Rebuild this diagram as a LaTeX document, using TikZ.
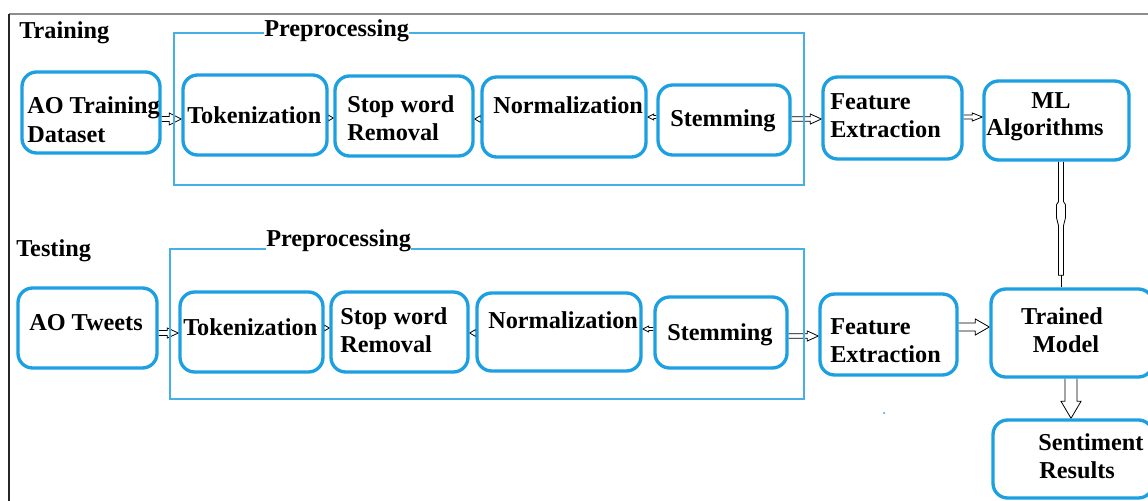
\documentclass[tikz,border=0pt]{standalone}
\usepackage{fontspec}
\setmainfont{Liberation Serif}
\usetikzlibrary{fit,calc,backgrounds}
\definecolor{boxblue}{RGB}{28,160,226}
\definecolor{preblue}{RGB}{70,175,230}
\newcommand\arrR[6]{%
  \coordinate (s) at (#1 |- #3); \coordinate (t) at (#2 |- #3);
  \draw[arr] ($(s)+(0,-#4)$) -- ($(t)+(-#6,-#4)$) -- ($(t)+(-#6,-#5)$) -- (t) -- ($(t)+(-#6,#5)$) -- ($(t)+(-#6,#4)$) -- ($(s)+(0,#4)$);}
\newcommand\arrL[6]{%
  \coordinate (s) at (#1 |- #3); \coordinate (t) at (#2 |- #3);
  \draw[arr] ($(s)+(0,-#4)$) -- ($(t)+(#6,-#4)$) -- ($(t)+(#6,-#5)$) -- (t) -- ($(t)+(#6,#5)$) -- ($(t)+(#6,#4)$) -- ($(s)+(0,#4)$);}
\newcommand\arrD[6]{%
  \coordinate (s) at (#1 -| #3); \coordinate (t) at (#2 -| #3);
  \draw[arr] ($(s)+(-#4,0)$) -- ($(t)+(-#4,-#6)$) -- ($(t)+(-#5,-#6)$) -- (t) -- ($(t)+(#5,-#6)$) -- ($(t)+(#4,-#6)$) -- ($(s)+(#4,0)$);}
\begin{document}
\begin{tikzpicture}[x=0.75pt,y=-0.75pt,
  box/.style={draw=boxblue, line width=2.5pt, rounded corners=11pt, inner sep=0pt},
  prebox/.style={draw=preblue, line width=0.8pt, inner sep=0pt},
  lbl/.style={anchor=base west, font=\fontsize{18.2}{22}\selectfont\bfseries, inner sep=0pt},
  clbl/.style={lbl, anchor=base},
  arr/.style={draw=black, line width=0.6pt, fill=white, line join=miter}]
\useasboundingbox (0,0) rectangle (1148,500);
% outer frame
\draw[line width=1.5pt, black!45] (9,14) -- (1150,14);
\draw[line width=1.5pt, black!85] (9,14) -- (9,502);
% preprocessing frames
\node[prebox, fit={(174,33) (804,185)}] (pp1) {};
\node[prebox, fit={(170,249) (804,399)}] (pp2) {};
% row 1 boxes
\node[box, fit={(22,72) (160,153)}] (trd) {};
\node[box, fit={(183,75) (327,155)}] (tok1) {};
\node[box, fit={(335,76) (473,156)}] (stop1) {};
\node[box, fit={(482,77) (646,157)}] (norm1) {};
\node[box, fit={(658,85) (790,155)}] (stem1) {};
\node[box, fit={(823,77) (962,159)}] (feat1) {};
\node[box, fit={(984,81) (1129,160)}] (ml) {};
% row 2 boxes
\node[box, fit={(18,288) (157,368)}] (tw) {};
\node[box, fit={(180,292) (323,372)}] (tok2) {};
\node[box, fit={(331,292) (468,372)}] (stop2) {};
\node[box, fit={(477,293) (641,371)}] (norm2) {};
\node[box, fit={(655,297) (787,368)}] (stem2) {};
\node[box, fit={(820,294) (957,375)}] (feat2) {};
\node[box, fit={(991,289) (1153,377)}] (tm) {};
\node[box, fit={(993,420) (1153,498)}] (sent) {};
% labels
\node[lbl] (t1) at (19,38) {Training};
\node[lbl, fill=white] (p1) at (264,36) {Preprocessing};
\node[lbl] (t2) at (16,256) {Testing};
\node[lbl, fill=white] (p2) at (266,246) {Preprocessing};
\node[lbl] at (27,113) {AO Training};
\node[lbl] at (27,142) {Dataset};
\node[lbl] at (187,123) {Tokenization};
\node[lbl] at (347,112) {Stop word};
\node[lbl] at (347,140) {Removal};
\node[lbl] at (493,113) {Normalization};
\node[lbl] at (670,126) {Stemming};
\node[lbl] at (830,109) {Feature};
\node[lbl] at (830,137) {Extraction};
\node[clbl] at (1051,108) {ML};
\node[clbl] at (1045,135) {Algorithms};
\node[lbl] at (29,330) {AO Tweets};
\node[lbl] at (183,335) {Tokenization};
\node[lbl] at (340,324) {Stop word};
\node[lbl] at (340,352) {Removal};
\node[lbl] at (488,328) {Normalization};
\node[lbl] at (667,340) {Stemming};
\node[lbl] at (830,334) {Feature};
\node[lbl] at (830,362) {Extraction};
\node[clbl] at (1062,324) {Trained};
\node[clbl] at (1066,352) {Model};
\node[lbl] at (1038,450) {Sentiment};
\node[lbl] at (1039,478) {Results};
\fill[boxblue] (884,413) circle (1);
% connectors
\begin{scope}[on background layer]
\coordinate (y1) at (0,119); \coordinate (y2) at (0,118); \coordinate (y3) at (0,119);
\coordinate (y4) at (0,117); \coordinate (y5) at (0,119); \coordinate (y6) at (0,117);
\coordinate (z1) at (0,333); \coordinate (z2) at (0,328); \coordinate (z3) at (0,333);
\coordinate (z4) at (0,329); \coordinate (z5) at (0,336); \coordinate (z6) at (0,327);
\coordinate (vx1) at (1061,0); \coordinate (vx2) at (1071,0);
\arrR{trd.east}{tok1.west}{y1}{2.5}{6}{12}
\arrR{tok1.east}{stop1.west}{y2}{1.8}{3.5}{6}
\arrL{norm1.west}{stop1.east}{y3}{1.8}{3.5}{6}
\arrL{stem1.west}{norm1.east}{y4}{1.5}{3}{6}
\arrR{stem1.east}{feat1.west}{y5}{2.2}{5}{11}
\arrR{feat1.east}{ml.west}{y6}{2}{4}{10}
\arrR{tw.east}{tok2.west}{z1}{2.5}{5}{11}
\arrR{tok2.east}{stop2.west}{z2}{1.8}{3.5}{6}
\arrL{norm2.west}{stop2.east}{z3}{1.8}{3.5}{6}
\arrL{stem2.west}{norm2.east}{z4}{1.5}{3}{6}
\arrR{stem2.east}{feat2.west}{z5}{2.2}{5}{11}
\arrR{feat2.east}{tm.west}{z6}{4}{8}{14}
\arrD{tm.south}{sent.north}{vx2}{6}{10}{17}
% ML -> trained model
\coordinate (ms) at (ml.south -| vx1); \coordinate (mt) at (tm.north -| vx1);
\draw[arr] ($(ms)+(-2.5,0)$) -- ($(ms)+(-2.5,40)$) -- ($(ms)+(-4.5,43)$) -- ($(ms)+(-4.5,56)$)
  -- ($(ms)+(-2.5,64)$) -- ($(mt)+(-2.5,-12)$) -- ($(mt)+(2.5,-12)$) -- ($(ms)+(2.5,64)$)
  -- ($(ms)+(4.5,56)$) -- ($(ms)+(4.5,43)$) -- ($(ms)+(2.5,40)$) -- ($(ms)+(2.5,0)$);
\draw[line width=0.6pt] ($(mt)+(0,-12)$) -- (mt);
\end{scope}
\end{tikzpicture}
\end{document}
